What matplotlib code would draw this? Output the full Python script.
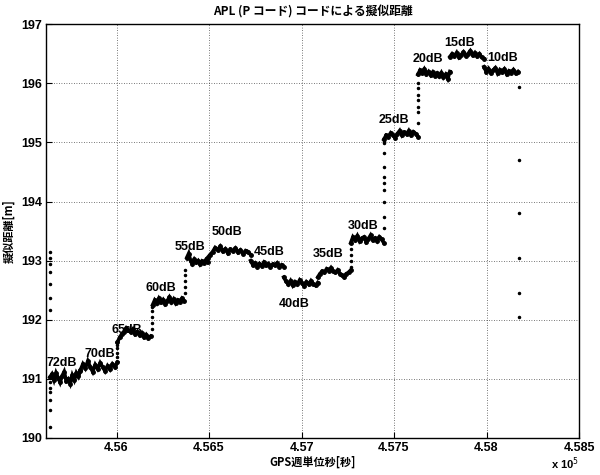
import matplotlib
matplotlib.use("Agg")
import matplotlib.pyplot as plt
import numpy as np
from matplotlib.ticker import FixedLocator, FixedFormatter

plt.rcParams["font.family"] = ["Liberation Sans", "Noto Sans CJK JP", "DejaVu Sans"]

# step segments: label, start/end time [s], pseudorange samples [m]
seg_labels = ["72dB", "70dB", "65dB", "60dB", "55dB", "50dB", "45dB",
              "40dB", "35dB", "30dB", "25dB", "20dB", "15dB", "10dB"]
seg_start = [455640, 455805, 456005, 456195, 456380, 456492, 456725,
             456904, 457088, 457266, 457445, 457629, 457802, 457986]
seg_end = [455805, 456005, 456184, 456365, 456492, 456725, 456904,
           457088, 457266, 457445, 457629, 457802, 457986, 458170]
seg_values = [
    [191.03, 191.08, 190.98, 191.10, 191.02, 190.94, 191.05, 191.12, 190.97, 191.00, 190.92, 191.06, 190.98, 191.10, 191.04, 191.14],
    [191.15, 191.25, 191.18, 191.30, 191.20, 191.12, 191.24, 191.17, 191.27, 191.20, 191.13, 191.22, 191.16, 191.25, 191.20, 191.28],
    [191.62, 191.70, 191.76, 191.80, 191.86, 191.82, 191.79, 191.84, 191.76, 191.80, 191.74, 191.78, 191.71, 191.75, 191.69, 191.72],
    [192.25, 192.33, 192.28, 192.36, 192.30, 192.34, 192.27, 192.32, 192.38, 192.30, 192.35, 192.28, 192.33, 192.30, 192.36, 192.32],
    [193.05, 193.12, 193.00, 192.95, 193.02, 192.97, 193.00, 192.94, 192.99, 192.96, 193.01, 192.97],
    [193.05, 193.10, 193.15, 193.22, 193.18, 193.24, 193.16, 193.20, 193.13, 193.19, 193.16, 193.21, 193.14, 193.18, 193.12, 193.17, 193.15, 193.10],
    [193.00, 192.93, 192.96, 192.90, 192.95, 192.91, 192.97, 192.92, 192.95, 192.90, 192.94, 192.92, 192.96, 192.90, 192.93, 192.90],
    [192.72, 192.65, 192.60, 192.66, 192.58, 192.64, 192.60, 192.67, 192.62, 192.57, 192.64, 192.60, 192.66, 192.61, 192.58, 192.63],
    [192.72, 192.78, 192.82, 192.80, 192.86, 192.83, 192.88, 192.82, 192.80, 192.84, 192.78, 192.75, 192.72, 192.78, 192.80, 192.84],
    [193.30, 193.40, 193.35, 193.42, 193.33, 193.38, 193.40, 193.32, 193.37, 193.43, 193.35, 193.38, 193.33, 193.40, 193.36, 193.30],
    [195.05, 195.12, 195.10, 195.16, 195.12, 195.08, 195.15, 195.20, 195.12, 195.17, 195.14, 195.20, 195.13, 195.18, 195.15, 195.10],
    [196.15, 196.22, 196.18, 196.24, 196.16, 196.20, 196.14, 196.19, 196.13, 196.17, 196.12, 196.18, 196.10, 196.15, 196.08, 196.20],
    [196.45, 196.50, 196.46, 196.52, 196.44, 196.48, 196.53, 196.47, 196.50, 196.55, 196.48, 196.52, 196.46, 196.50, 196.44, 196.42],
    [196.28, 196.20, 196.25, 196.18, 196.22, 196.26, 196.17, 196.23, 196.19, 196.24, 196.16, 196.21, 196.18, 196.23, 196.17, 196.20],
]

# isolated samples during the level transitions
trans_x = [455640] * 13 + [456005] * 5 + [456190] * 5 + [456372] * 5 + [457266] * 5 \
    + [457445] * 10 + [457629] * 7 + [458175] * 6
trans_y = [193.15, 193.05, 192.95, 192.80, 192.60, 192.37, 192.17,
           190.95, 190.85, 190.78, 190.64, 190.47, 190.18,
           191.37, 191.44, 191.52, 191.57, 191.62,
           191.85, 191.95, 192.05, 192.15, 192.22,
           192.45, 192.55, 192.65, 192.75, 192.85,
           192.90, 193.00, 193.10, 193.20, 193.30,
           193.55, 193.74, 193.99, 194.19, 194.31, 194.41, 194.58, 194.82, 194.99, 195.03,
           195.33, 195.51, 195.60, 195.72, 195.80, 195.92, 196.00,
           195.93, 194.70, 193.80, 193.05, 192.45, 192.05]

# label positions (centre of text)
label_x = [455702, 455908, 456054, 456238, 456395, 456600, 456823,
           456958, 457142, 457331, 457499, 457683, 457856, 458089]
label_y = [191.27, 191.42, 191.82, 192.54, 193.23, 193.48, 193.14,
           192.27, 193.11, 193.58, 195.38, 196.42, 196.69, 196.43]

x_ticks = [456000, 456500, 457000, 457500, 458000, 458500]
x_tick_labels = ["4.56", "4.565", "4.57", "4.575", "4.58", "4.585"]
y_ticks = [190, 191, 192, 193, 194, 195, 196, 197]

cjk = ["Noto Sans CJK JP", "DejaVu Sans"]

fig = plt.figure(figsize=(6, 4.75), dpi=100)
ax = fig.add_axes([0.077, 0.078, 0.888, 0.871])

for xs, xe, vals in zip(seg_start, seg_end, seg_values):
    x = np.linspace(xs, xe, len(vals))
    ax.plot(x, vals, color="black", linewidth=2.6, marker=".", markersize=5,
            solid_joinstyle="miter")

ax.plot(trans_x, trans_y, linestyle="none", marker=".", markersize=3, color="black")

for lab, lx, ly in zip(seg_labels, label_x, label_y):
    ax.text(lx, ly, lab, ha="center", va="center", fontsize=9, fontweight="bold")

ax.set_xlim(455620, 458500)
ax.set_ylim(190, 197)
ax.xaxis.set_major_locator(FixedLocator(x_ticks))
ax.xaxis.set_major_formatter(FixedFormatter(x_tick_labels))
ax.set_yticks(y_ticks)
ax.tick_params(direction="in", length=4, width=0.8, labelsize=9, pad=3)
for lbl in ax.get_xticklabels() + ax.get_yticklabels():
    lbl.set_fontweight("bold")
ax.grid(True, linestyle=(0, (1, 2)), color="black", linewidth=0.6, alpha=0.7)
for sp in ax.spines.values():
    sp.set_linewidth(1.0)

ax.set_title("APL (P コード) コードによる擬似距離", family=cjk, fontsize=8.5,
             fontweight="bold", pad=6)
ax.set_xlabel("GPS週単位秒[秒]", family=cjk, fontsize=8, fontweight="bold", labelpad=1)
ax.set_ylabel("擬似距離[m]", family=cjk, fontsize=8, fontweight="bold", labelpad=4)
ax.text(1.0, -0.041, r"x 10$^5$", transform=ax.transAxes, ha="right", va="top",
        fontsize=8, fontweight="bold")

fig.savefig("out.png", dpi=100)
